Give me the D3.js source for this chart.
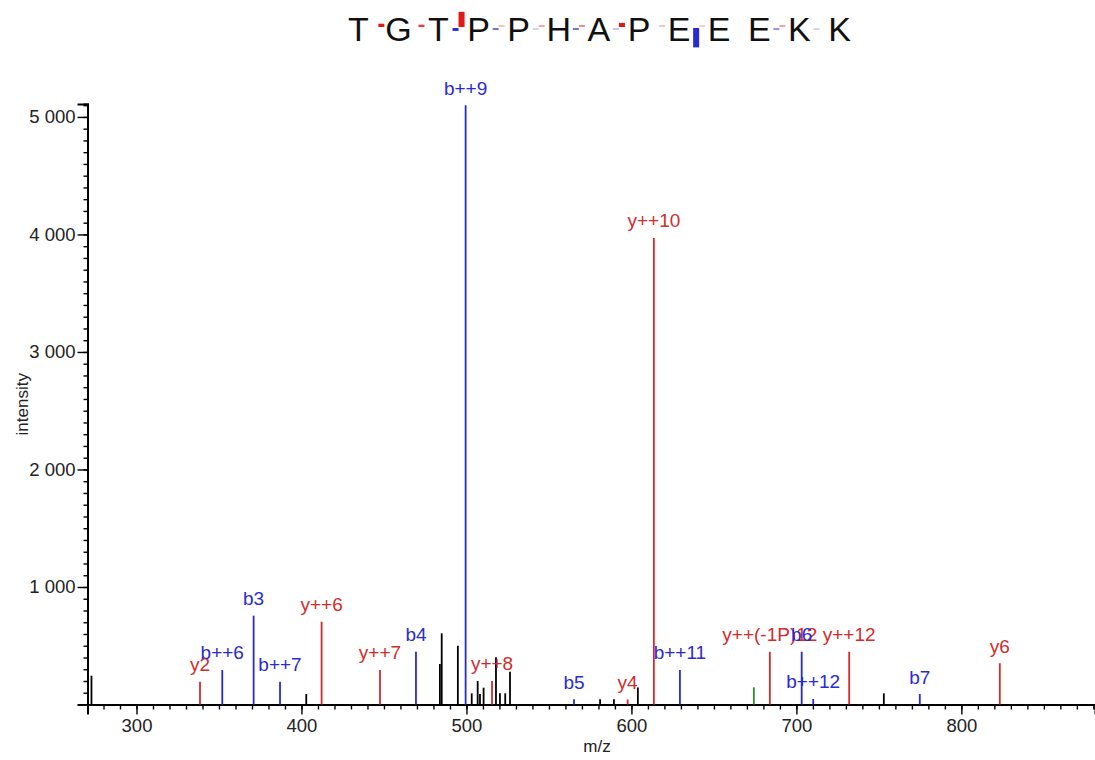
<!DOCTYPE html>
<html>
<head>
<meta charset="utf-8">
<script src="https://cdn.jsdelivr.net/npm/d3@7"></script>
<style>
  html, body { margin: 0; padding: 0; background: #fff; }
  svg { display: block; font-family: "Liberation Sans", Arial, Helvetica, sans-serif; }
</style>
</head>
<body>
<svg id="chart" width="1095" height="760"></svg>
<script>
// Peptide sequence shown above the spectrum
const residues = ["T", "G", "T", "P", "P", "H", "A", "P", "E", "E", "E", "K", "K"];
// Relative fragment coverage per cleavage site (between residue i and i+1)
const bCoverage = [0, 0, 0.15, 0.09, 0.01, 0.09, 0.02, 0, 1.0, 0, 0.06, 0.01];
const yCoverage = [0.17, 0.12, 0.78, 0.02, 0.04, 0.06, 0.21, 0.02, 0.01, 0, 0.04, 0];

// Spectrum peaks
const peakMz = [272.7, 338.5, 352.0, 371.0, 387.0, 402.9, 412.2, 447.6, 469.4, 483.9,
  485.0, 494.8, 499.5, 503.2, 506.8, 508.2, 510.4, 515.5, 517.9, 520.3,
  523.5, 526.4, 565.2, 581.0, 589.4, 597.7, 603.9, 613.6, 629.4, 674.2,
  683.9, 703.2, 710.2, 732.0, 753.0, 774.8, 823.3];
const peakIntensity = [245, 194, 294, 756, 194, 89, 705, 294, 449, 345,
  606, 500, 5100, 95, 200, 89, 143, 200, 402, 95,
  95, 279, 44, 44, 44, 43, 145, 3970, 294, 146,
  449, 449, 47, 449, 95, 89, 351];
const peakType = ["other", "y", "b", "b", "b", "other", "y", "y", "b", "other",
  "other", "other", "b", "other", "other", "other", "other", "y", "other", "other",
  "other", "other", "b", "other", "other", "y", "other", "y", "b", "precursor",
  "y", "b", "b", "y", "other", "b", "y"];
const peakLabel = ["", "y2", "b++6", "b3", "b++7", "", "y++6", "y++7", "b4", "",
  "", "", "b++9", "", "", "", "", "y++8", "", "",
  "", "", "b5", "", "", "y4", "", "y++10", "b++11", "",
  "y++(-1P)12", "b6", "b++12", "y++12", "", "b7", "y6"];

// Axis ticks
const xMajorTicks = [300, 400, 500, 600, 700, 800];
const yMajorTicks = [1000, 2000, 3000, 4000, 5000];

const colors = { b: "#2a2ad2", y: "#d42b2b", other: "#000000", precursor: "#2e8b2e" };

const svg = d3.select("#chart");

const x = d3.scaleLinear().domain([270.3, 881]).range([87.5, 1095]);
const y = d3.scaleLinear().domain([0, 5110]).range([704.5, 104]);

const fmt = d3.formatLocale({ decimal: ".", thousands: " ", grouping: [3], currency: ["", ""] }).format(",d");

// Y axis: minor ticks every 100, labelled major ticks every 1000
const yMinor = svg.append("g").attr("transform", `translate(${x.range()[0]},0)`)
  .call(d3.axisLeft(y).tickValues(d3.range(100, 5101, 100)).tickSize(4).tickFormat(""));
const yMajor = svg.append("g").attr("transform", `translate(${x.range()[0]},0)`)
  .call(d3.axisLeft(y).tickValues(yMajorTicks).tickSize(10).tickPadding(2).tickFormat(fmt));

// X axis: minor ticks every 10, labelled major ticks every 100
const xMinor = svg.append("g").attr("transform", `translate(0,${y(0)})`)
  .call(d3.axisBottom(x).tickValues(d3.range(280, 881, 10)).tickSize(5).tickFormat(""));
const xMajor = svg.append("g").attr("transform", `translate(0,${y(0)})`)
  .call(d3.axisBottom(x).tickValues(xMajorTicks).tickSize(10).tickPadding(4).tickFormat(d3.format("d")));

svg.selectAll(".tick line").attr("stroke", "#000").attr("stroke-width", 1.4);
svg.selectAll(".domain").attr("stroke", "#000").attr("stroke-width", 2);
svg.selectAll(".tick text").attr("font-size", 18.5).attr("fill", "#222")
  .attr("font-family", "\"Liberation Sans\", Arial, Helvetica, sans-serif");

// Axis titles
svg.append("text")
  .attr("transform", `translate(28,${(y.range()[0] + y.range()[1]) / 2}) rotate(-90)`)
  .attr("text-anchor", "middle")
  .attr("font-size", 17).attr("fill", "#222")
  .text("intensity");
svg.append("text")
  .attr("x", 597).attr("y", 752)
  .attr("text-anchor", "middle")
  .attr("font-size", 17).attr("fill", "#222")
  .text("m/z");

// Peaks
const peaks = peakMz.map((mz, i) => ({ mz, intensity: peakIntensity[i], type: peakType[i], label: peakLabel[i] }));

svg.append("g").selectAll("line").data(peaks).join("line")
  .attr("x1", d => x(d.mz)).attr("x2", d => x(d.mz))
  .attr("y1", y(0)).attr("y2", d => y(d.intensity))
  .attr("stroke", d => colors[d.type])
  .attr("stroke-width", 1.8);

svg.append("g").selectAll("text").data(peaks.filter(d => d.label)).join("text")
  .attr("x", d => x(d.mz))
  .attr("y", d => y(d.intensity) - 10.5)
  .attr("text-anchor", "middle")
  .attr("font-size", 19)
  .attr("fill", d => colors[d.type])
  .text(d => d.label);

// Sequence with fragment coverage marks
const seqX = d3.scaleLinear().domain([0, residues.length - 1]).range([358.3, 839.5]);
const step = seqX(1) - seqX(0);
const seq = svg.append("g");
seq.selectAll("text").data(residues).join("text")
  .attr("x", (d, i) => seqX(i))
  .attr("y", 41)
  .attr("text-anchor", "middle")
  .attr("font-size", 34)
  .attr("fill", "#111")
  .text(d => d);

const markH = d3.scaleLinear().domain([0, 1]).range([0, 19.4]);
const markOpacity = v => 0.15 + 0.85 * Math.min(1, v / 0.15);
const sites = d3.range(residues.length - 1).map(i => ({ i, b: bCoverage[i], yv: yCoverage[i] }));

seq.selectAll("rect.bmark").data(sites.filter(d => d.b > 0)).join("rect")
  .attr("class", "bmark")
  .attr("x", d => seqX(d.i) + step / 2 - 6)
  .attr("y", 28)
  .attr("width", 6)
  .attr("height", d => Math.max(2, markH(d.b)))
  .attr("fill", colors.b)
  .attr("opacity", d => markOpacity(d.b));

seq.selectAll("rect.ymark").data(sites.filter(d => d.yv > 0)).join("rect")
  .attr("class", "ymark")
  .attr("x", d => seqX(d.i) + step / 2)
  .attr("y", d => 27 - Math.max(2, markH(d.yv)))
  .attr("width", 6)
  .attr("height", d => Math.max(2, markH(d.yv)))
  .attr("fill", "#e01818")
  .attr("opacity", d => markOpacity(d.yv));
</script>
</body>
</html>
